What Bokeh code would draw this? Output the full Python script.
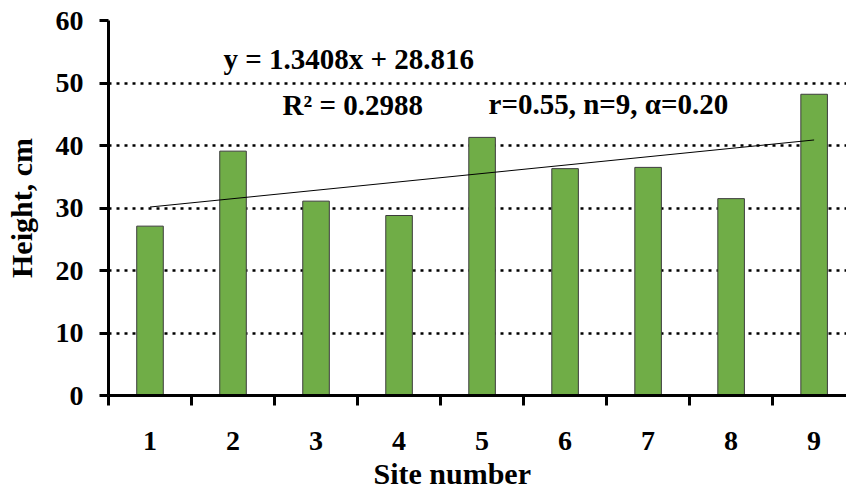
from bokeh.plotting import figure
from bokeh.models import FixedTicker, Range1d, Title
from bokeh.core.properties import value
from bokeh.embed import file_html
from bokeh.resources import INLINE

# Plant height at each site
sites = [1, 2, 3, 4, 5, 6, 7, 8, 9]
heights = [27.1, 39.1, 31.1, 28.8, 41.3, 36.3, 36.5, 31.5, 48.2]
site_labels = ["1", "2", "3", "4", "5", "6", "7", "8", "9"]
y_ticks = [0, 10, 20, 30, 40, 50, 60]

# Linear trend fitted to the heights
slope = 1.3408
intercept = 28.816
r_squared = 0.2988
stats_text = "r=0.55, n=9, \u03b1=0.20"

FONT = "Liberation Serif"
TXT = "28px"

p = figure(
    width=846, height=493,
    x_range=Range1d(0.5, 9.39), y_range=Range1d(0, 60),
    output_backend="svg", toolbar_location=None,
    min_border_left=108, min_border_right=0,
    min_border_top=20, min_border_bottom=98,
)
p.outline_line_color = None
p.background_fill_color = "white"
p.border_fill_color = "white"

# Bars
p.vbar(x=sites, top=heights, width=0.32,
       fill_color="#70AD47", line_color="#3c3c3c", line_width=1)

# Trend line across the sites
trend_x = [sites[0], sites[-1]]
trend_y = [slope * x + intercept for x in trend_x]
p.line(trend_x, trend_y, line_color="black", line_width=1)

# Equation and statistics
text_style = dict(text_font=value(FONT), text_font_style="bold", text_font_size="29px",
                  text_align="left", text_baseline="alphabetic", text_color="black")
p.text(x=[1.886], y=[53.8], text=[f"y = {slope}x + {intercept}"], **text_style)
p.text(x=[2.596], y=[46.5], text=[f"R\u00b2 = {r_squared}"], **text_style)
p.text(x=[5.078], y=[46.7], text=[stats_text], **text_style)

# Grid: dotted horizontal lines only
p.xgrid.visible = False
p.ygrid.ticker = FixedTicker(ticks=y_ticks[1:])
p.ygrid.grid_line_color = "black"
p.ygrid.grid_line_dash = "3 5"
p.ygrid.grid_line_width = 2.5

# Y axis
p.yaxis.ticker = FixedTicker(ticks=y_ticks)
p.yaxis.axis_line_width = 3
p.yaxis.major_tick_line_width = 3
p.yaxis.major_tick_out = 9
p.yaxis.major_tick_in = 0
p.yaxis.minor_tick_line_color = None
p.yaxis.major_label_standoff = 16
p.yaxis.major_label_text_font = FONT
p.yaxis.major_label_text_font_style = "bold"
p.yaxis.major_label_text_font_size = TXT
p.yaxis.major_label_text_color = "black"
p.yaxis.axis_label = "Height, cm"
p.yaxis.axis_label_text_font = FONT
p.yaxis.axis_label_text_font_style = "bold"
p.yaxis.axis_label_text_font_size = "30px"
p.yaxis.axis_label_text_color = "black"
p.yaxis.axis_label_standoff = 15

# X axis: labels at site centres, ticks between sites
p.xaxis.ticker = FixedTicker(ticks=sites, minor_ticks=[s - 0.5 for s in sites] + [9.5])
p.xaxis.major_label_overrides = {s: lab for s, lab in zip(sites, site_labels)}
p.xaxis.axis_line_width = 3
p.xaxis.major_tick_line_color = None
p.xaxis.major_tick_out = 0
p.xaxis.major_tick_in = 0
p.xaxis.minor_tick_line_width = 3
p.xaxis.minor_tick_out = 10
p.xaxis.minor_tick_in = 0
p.xaxis.major_label_standoff = 26
p.xaxis.major_label_text_font = FONT
p.xaxis.major_label_text_font_style = "bold"
p.xaxis.major_label_text_font_size = TXT
p.xaxis.major_label_text_color = "black"

# X axis title, set slightly left of the frame centre
p.add_layout(Title(text="Site number", align="left", offset=265, standoff=4,
                   text_font=FONT, text_font_style="bold", text_font_size="30px",
                   text_color="black"), "below")

open("out.html", "w").write(file_html(p, INLINE))
